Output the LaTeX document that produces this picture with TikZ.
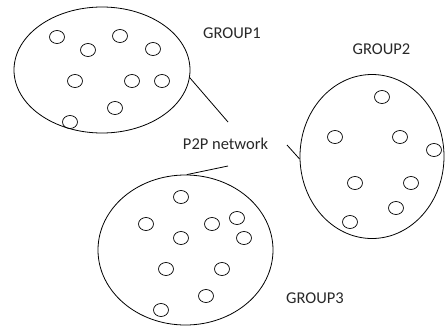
\documentclass[tikz,border=0pt]{standalone}
\usepackage{fontspec}
\setmainfont{Carlito}
\usetikzlibrary{shapes.geometric}
\definecolor{labelink}{RGB}{40,40,40}
\tikzset{
  groupcloud/.style={draw, ellipse, line width=0.8pt, inner sep=0pt},
  peer/.style={draw, ellipse, line width=0.7pt, minimum width=15pt, minimum height=13pt, inner sep=0pt},
  link/.style={line width=0.8pt},
  grouplabel/.style={anchor=base, inner sep=0pt, text=labelink, font=\fontsize{16.5}{18}\selectfont}
}
\begin{document}
\begin{tikzpicture}[x=1pt, y=-1pt]
\useasboundingbox (0,0) rectangle (445,327);

% the three peer groups
\node[groupcloud, minimum width=176pt, minimum height=126pt] (g1) at (102,70) {};
\node[groupcloud, minimum width=144pt, minimum height=164pt] (g2) at (372,156.5) {};
\node[groupcloud, minimum width=175pt, minimum height=150pt] (g3) at (185.5,250) {};

% peers inside each group
\foreach \p [count=\i] in {(57,37),(120,36),(88,50),(153,49),(75,81),(132,81),(162,81),(115,108),(70,122)}
  \node[peer] (pa\i) at \p {};
\foreach \p [count=\i] in {(382,97),(335,137),(400,137),(434,150),(355,183),(411,183),(396,208),(350,222)}
  \node[peer] (pb\i) at \p {};
\foreach \p [count=\i] in {(181,197),(146,224),(212,224),(237,218),(181,238),(244,238),(166,269),(222,269),(206,296),(161,310)}
  \node[peer] (pc\i) at \p {};

% labels
\node[grouplabel] (t1) at (232,38) {GROUP1};
\node[grouplabel] (t2) at (381.5,54.5) {GROUP2};
\node[grouplabel] (t3) at (315,303) {GROUP3};
\node[grouplabel] (net) at (225.5,149) {P2P network};

% links to the network
\coordinate (e1) at (228,122);
\coordinate (e2) at (287,145);
\coordinate (e3) at (228,166);
\draw[link] (g1.-5) -- (e1);
\draw[link] (e2) -- (g2.182);
\draw[link] (e3) -- (g3.89);
\end{tikzpicture}
\end{document}
